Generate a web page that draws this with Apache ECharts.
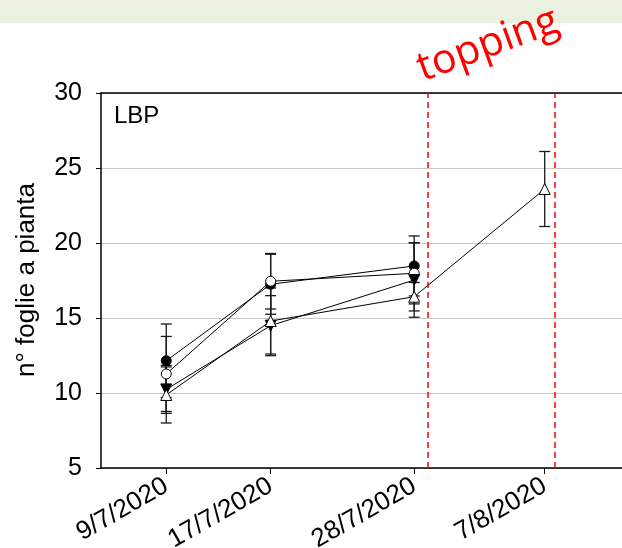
<!DOCTYPE html>
<html>
<head>
<meta charset="utf-8">
<script src="https://cdn.jsdelivr.net/npm/echarts@6/dist/echarts.min.js"></script>
<style>
  html, body { margin: 0; padding: 0; background: #fff; }
  #chart { width: 622px; height: 548px; }
</style>
</head>
<body>
<div id="chart"></div>
<script>
// sampling dates (d/m/2020)
var dates = ['2020-07-09', '2020-07-17', '2020-07-28', '2020-08-07'];
var toppingDates = ['2020-07-29 00', '2020-08-07 18'];

// n. leaves per plant, mean and error, four treatments
var filledCircle = [12.15, 17.25, 18.47];
var filledCircleErr = [2.45, 2.0, 2.0];
var openCircle = [11.27, 17.45, 17.98];
var openCircleErr = [2.5, 1.85, 2.04];
var filledTri = [10.24, 14.49, 17.53];
var filledTriErr = [1.6, 2.0, 2.48];
var openTri = [9.87, 14.8, 16.42, 23.6];
var openTriErr = [1.87, 2.2, 0.95, 2.5];

var yTicks = [5, 10, 15, 20, 25, 30];

function toTs(s) {
  var p = s.split(/[- ]/);
  return new Date(+p[0], +p[1] - 1, +p[2], +(p[3] || 0)).getTime();
}
var dateTs = dates.map(toTs);
var xMin = toTs('2020-07-04');
var xMax = toTs('2020-08-13');

function pts(vals) {
  return vals.map(function (v, i) { return [dateTs[i], v]; });
}
function bars(vals, errs) {
  return vals.map(function (v, i) { return [dateTs[i], v - errs[i], v + errs[i]]; });
}

var font = 'Liberation Sans, Arial, sans-serif';

function errRender(params, api) {
  var x = api.value(0);
  var top = api.coord([x, api.value(2)]);
  var bot = api.coord([x, api.value(1)]);
  var w = 5.5;
  var st = { stroke: '#1a1a1a', lineWidth: 1.3 };
  return {
    type: 'group',
    children: [
      { type: 'line', shape: { x1: top[0], y1: top[1], x2: bot[0], y2: bot[1] }, style: st },
      { type: 'line', shape: { x1: top[0] - w, y1: top[1], x2: top[0] + w, y2: top[1] }, style: st },
      { type: 'line', shape: { x1: bot[0] - w, y1: bot[1], x2: bot[0] + w, y2: bot[1] }, style: st }
    ]
  };
}

function errSeries(vals, errs) {
  return {
    type: 'custom',
    renderItem: errRender,
    data: bars(vals, errs),
    encode: { x: 0, y: [1, 2] },
    z: 1,
    silent: true
  };
}

function lineSeries(vals, symbol, fill, rotate) {
  return {
    type: 'line',
    data: pts(vals),
    symbol: symbol,
    symbolSize: symbol === 'circle' ? 10 : 11,
    symbolRotate: rotate || 0,
    showAllSymbol: true,
    lineStyle: { color: '#000', width: 1 },
    itemStyle: { color: fill, borderColor: '#000', borderWidth: 1 },
    z: 3,
    silent: true
  };
}

var myChart = echarts.init(document.getElementById('chart'));

var option = {
  animation: false,
  backgroundColor: '#fff',
  grid: { left: 101, top: 93, bottom: 80, right: -1, outerBoundsMode: 'none' },
  graphic: [
    { type: 'rect', shape: { x: 0, y: 0, width: 622, height: 23 }, style: { fill: '#ebf1e1' } },
    {
      type: 'text', x: 488, y: 45, rotation: 20 * Math.PI / 180,
      style: { text: 'topping', fill: '#ff0000', font: '41px "Open Sans", sans-serif', align: 'center', verticalAlign: 'middle' }
    },
    {
      type: 'text', x: 27, y: 280, rotation: Math.PI / 2,
      style: { text: 'n° foglie a pianta', fill: '#000', font: '26px ' + font, align: 'center', verticalAlign: 'middle' }
    },
    {
      type: 'text', x: 114, y: 116,
      style: { text: 'LBP', fill: '#000', font: '24px ' + font, align: 'left', verticalAlign: 'middle' }
    }
  ],
  xAxis: [
    {
      type: 'value',
      min: xMin,
      max: xMax,
      axisLine: { lineStyle: { color: '#000', width: 1.5 } },
      axisTick: { show: true, length: 6, customValues: dateTs, lineStyle: { color: '#000', width: 1 } },
      axisLabel: {
        customValues: dateTs,
        rotate: 30,
        margin: 16,
        color: '#000',
        fontSize: 26,
        fontFamily: font,
        hideOverlap: false,
        formatter: function (v) {
          var d = new Date(v);
          return d.getDate() + '/' + (d.getMonth() + 1) + '/' + d.getFullYear();
        }
      },
      splitLine: { show: false }
    },
    {
      type: 'value',
      position: 'top',
      min: xMin,
      max: xMax,
      axisLine: { show: true, lineStyle: { color: '#000', width: 1.5 } },
      axisTick: { show: false },
      axisLabel: { show: false },
      splitLine: { show: false }
    }
  ],
  yAxis: {
    type: 'value',
    min: yTicks[0],
    max: yTicks[yTicks.length - 1],
    interval: 5,
    axisLine: { show: true, lineStyle: { color: '#000', width: 1.5 } },
    axisTick: { show: true, length: 5, lineStyle: { color: '#000', width: 1 } },
    axisLabel: { color: '#000', fontSize: 25, fontFamily: font, margin: 19 },
    splitLine: { show: true, lineStyle: { color: '#c8c8c8', width: 1 } }
  },
  series: [
    errSeries(filledCircle, filledCircleErr),
    errSeries(openCircle, openCircleErr),
    errSeries(filledTri, filledTriErr),
    errSeries(openTri, openTriErr),
    lineSeries(filledCircle, 'circle', '#000'),
    lineSeries(openCircle, 'circle', '#fff'),
    lineSeries(filledTri, 'triangle', '#000', 180),
    lineSeries(openTri, 'triangle', '#fff'),
    {
      type: 'line',
      data: [],
      silent: true,
      markLine: {
        symbol: 'none',
        silent: true,
        label: { show: false },
        lineStyle: { color: '#ff0000', type: [6, 4], width: 1.5 },
        data: toppingDates.map(function (d) { return { xAxis: toTs(d) }; })
      }
    }
  ]
};

myChart.setOption(option);
</script>
</body>
</html>
